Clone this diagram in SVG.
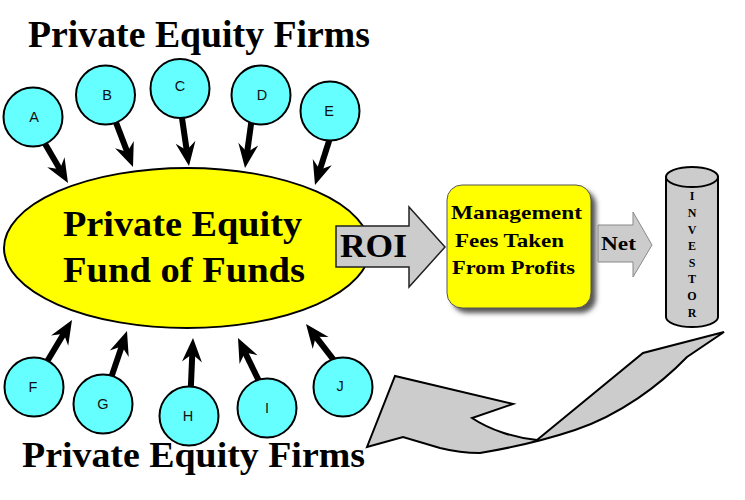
<svg xmlns="http://www.w3.org/2000/svg" xmlns:xlink="http://www.w3.org/1999/xlink" width="745" height="500" viewBox="0 0 745 500">
<style>
.title{font-family:"Liberation Serif","Times New Roman",serif;font-weight:bold;fill:#000}
.firm circle{fill:#66ffff;stroke:#000;stroke-width:2}
.firm text{font-family:"Liberation Sans",Arial,sans-serif;font-size:14.5px;fill:#111;text-anchor:middle}
.inv{font-family:"Liberation Serif","Times New Roman",serif;font-weight:bold;font-size:12px;fill:#000;text-anchor:middle}
</style>
<defs>
<g id="arrow">
<rect x="-58" y="-3" width="44" height="6" fill="#000"/>
<path d="M0,0 L-24,-10 L-16,0 L-24,10 Z" fill="#000"/>
</g>
<filter id="shadow" x="-20%" y="-20%" width="140%" height="140%">
<feGaussianBlur stdDeviation="2.5"/>
</filter>
</defs>
<rect width="745" height="500" fill="#fff"/>

<g id="connectors">
<use xlink:href="#arrow" transform="translate(68,183) rotate(59.7)"/>
<use xlink:href="#arrow" transform="translate(133,167) rotate(69.1)"/>
<use xlink:href="#arrow" transform="translate(189,166) rotate(81.7)"/>
<use xlink:href="#arrow" transform="translate(245,168) rotate(97.8)"/>
<use xlink:href="#arrow" transform="translate(315,185) rotate(107.7)"/>
<use xlink:href="#arrow" transform="translate(72,320) rotate(-59)"/>
<use xlink:href="#arrow" transform="translate(127,331) rotate(-71.2)"/>
<use xlink:href="#arrow" transform="translate(193,338) rotate(-87.5)"/>
<use xlink:href="#arrow" transform="translate(238,338) rotate(-116)"/>
<use xlink:href="#arrow" transform="translate(306,324) rotate(-127.6)"/>
</g>

<g id="title-top"><text class="title" x="28" y="47" font-size="37" textLength="342" lengthAdjust="spacingAndGlyphs">Private Equity Firms</text></g>

<g id="firm-A" class="firm"><circle cx="33" cy="117" r="29.5"/><text x="34" y="122">A</text></g>
<g id="firm-B" class="firm"><circle cx="105.5" cy="95" r="29.5"/><text x="107" y="100">B</text></g>
<g id="firm-C" class="firm"><circle cx="180" cy="88.5" r="29.5"/><text x="180" y="91">C</text></g>
<g id="firm-D" class="firm"><circle cx="261" cy="95" r="29.5"/><text x="262" y="100">D</text></g>
<g id="firm-E" class="firm"><circle cx="330" cy="111" r="29.5"/><text x="329" y="116">E</text></g>
<g id="firm-F" class="firm"><circle cx="34" cy="387" r="29.5"/><text x="33" y="392">F</text></g>
<g id="firm-G" class="firm"><circle cx="103" cy="404" r="29.5"/><text x="103" y="409">G</text></g>
<g id="firm-H" class="firm"><circle cx="189" cy="416" r="29.5"/><text x="188" y="421">H</text></g>
<g id="firm-I" class="firm"><circle cx="267" cy="408" r="29.5"/><text x="267" y="413">I</text></g>
<g id="firm-J" class="firm"><circle cx="343" cy="387" r="29.5"/><text x="340" y="391">J</text></g>

<g id="fund">
<ellipse cx="187" cy="248" rx="183" ry="80" fill="#ffff00" stroke="#000" stroke-width="2"/>
<text class="title" x="63" y="236" font-size="36" textLength="239" lengthAdjust="spacingAndGlyphs">Private Equity</text>
<text class="title" x="63" y="282" font-size="36" textLength="242" lengthAdjust="spacingAndGlyphs">Fund of Funds</text>
</g>

<g id="roi">
<path d="M336,226 L409,226 L409,207 L445,247 L409,287 L409,267 L336,267 Z" fill="#cccccc" stroke="#222" stroke-width="1.5" stroke-linejoin="miter"/>
<text class="title" x="340" y="257" font-size="34" textLength="67" lengthAdjust="spacingAndGlyphs">ROI</text>
</g>

<g id="management">
<rect x="452" y="190" width="144" height="123" rx="15" fill="#555" filter="url(#shadow)"/>
<rect x="447" y="185" width="144" height="123" rx="15" fill="#ffff00" stroke="#555" stroke-width="1"/>
<text class="title" x="451" y="219" font-size="19.5" textLength="131" lengthAdjust="spacingAndGlyphs">Management</text>
<text class="title" x="455" y="247" font-size="19.5" textLength="109" lengthAdjust="spacingAndGlyphs">Fees Taken</text>
<text class="title" x="452" y="274" font-size="19.5" textLength="123" lengthAdjust="spacingAndGlyphs">From Profits</text>
</g>

<g id="net">
<path d="M598,225 L633,225 L633,212 L652,245 L633,277 L633,262 L598,262 Z" fill="#cccccc" stroke="#888" stroke-width="1"/>
<text class="title" x="601" y="250" font-size="19" textLength="35" lengthAdjust="spacingAndGlyphs">Net</text>
</g>

<g id="investor">
<path d="M666,177 L666,317 A26,10 0 0 0 718,317 L718,177 Z" fill="#cccccc" stroke="#000" stroke-width="2"/>
<ellipse cx="692" cy="177" rx="26" ry="10" fill="#cccccc" stroke="#000" stroke-width="2"/>
<text class="inv" x="692" y="200">I</text>
<text class="inv" x="692" y="217">N</text>
<text class="inv" x="692" y="234">V</text>
<text class="inv" x="692" y="250">E</text>
<text class="inv" x="692" y="267">S</text>
<text class="inv" x="692" y="283">T</text>
<text class="inv" x="692" y="300">O</text>
<text class="inv" x="692" y="317">R</text>
</g>

<g id="return-arrow">
<path d="M367,447 L395,376 L513,404 L472,418 C490,430 515,438 537,440 L643,353 L724,332 L687,357 C660,385 620,415 575,430 C545,440 510,448 480,453 C465,453 452,451 440,448 L403,437 Z" fill="#cccccc" stroke="#000" stroke-width="2" stroke-linejoin="miter"/>
</g>

<g id="title-bottom"><text class="title" x="22" y="467" font-size="36" textLength="343" lengthAdjust="spacingAndGlyphs">Private Equity Firms</text></g>
</svg>
